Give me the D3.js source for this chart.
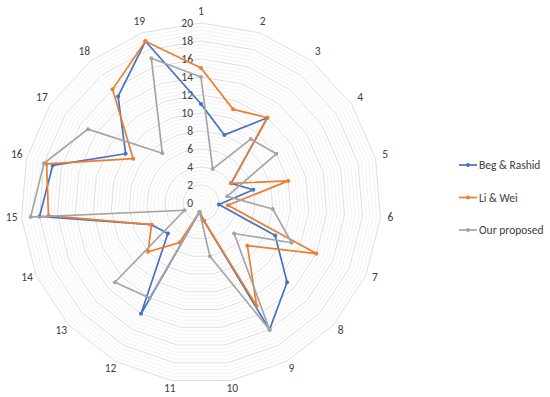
<!DOCTYPE html>
<html>
<head>
<meta charset="utf-8">
<script src="https://cdn.jsdelivr.net/npm/d3@7"></script>
<style>
html,body{margin:0;padding:0;background:#fff;}
svg{display:block;}
text{font-family:Carlito,Calibri,"Liberation Sans",Arial,sans-serif;}
</style>
</head>
<body>
<svg id="chart" width="550" height="397"></svg>
<script>
const axes = ["1","2","3","4","5","6","7","8","9","10","11","12","13","14","15","16","17","18","19"];
const begRashid = [11, 8, 12, 4, 6, 2, 9, 13, 16, 2, 1, 14, 5, 6, 18, 17, 10, 15, 19];
const liWei     = [15, 11, 12, 4, 10, 3, 14, 7, 13, 2, 1, 5, 8, 6, 17, 17.7, 9, 16, 19];
const ourProposed = [14, 4, 9, 10, 3, 8, 11, 5, 16, 6, 1, 12, 13, 2, 19, 18, 15, 7, 17];
const seriesNames = ["Beg & Rashid", "Li & Wei", "Our proposed"];
const seriesColors = ["#4472C4", "#ED7D31", "#A5A5A5"];
const tickValues = [0,2,4,6,8,10,12,14,16,18,20];

const series = [begRashid, liWei, ourProposed];
const svg = d3.select("#chart");
const cx = 201, cy = 203;
const r = d3.scaleLinear().domain([0, 20]).range([0, 180]);
const ang = d3.scaleLinear().domain([0, axes.length]).range([0, 2*Math.PI]);
const pt = (i, v) => [cx + r(v)*Math.sin(ang(i)), cy - r(v)*Math.cos(ang(i))];

const g = svg.append("g");
// minor rings
const minor = d3.range(1, 51).map(k => k*0.4).filter(v => Math.abs(v/2 - Math.round(v/2)) > 1e-6);
const ringLine = d3.line();
g.selectAll("path.minor").data(minor).join("path")
  .attr("d", v => ringLine(axes.map((a,i)=>pt(i,v))) + "Z")
  .attr("fill","none").attr("stroke","#efefef").attr("stroke-width",0.8);
g.selectAll("path.major").data(tickValues.slice(1)).join("path")
  .attr("d", v => ringLine(axes.map((a,i)=>pt(i,v))) + "Z")
  .attr("fill","none").attr("stroke","#d9d9d9").attr("stroke-width",0.9);

// tick labels
g.selectAll("text.tick").data(tickValues).join("text")
  .attr("x", cx - 8).attr("y", v => cy - r(v))
  .attr("text-anchor","end").attr("dominant-baseline","central")
  .attr("font-size", 11.5).attr("fill","#404040").text(d => d);

// axis labels
const labR = 190;
g.selectAll("text.axl").data(axes).join("text")
  .attr("x", (d,i) => cx + labR*Math.sin(ang(i)))
  .attr("y", (d,i) => cy - labR*Math.cos(ang(i)) - 2)
  .attr("text-anchor","middle").attr("dominant-baseline","central")
  .attr("font-size", 11.5).attr("fill","#404040").text(d => d);

// series
const line = d3.line().curve(d3.curveLinearClosed);
series.forEach((vals, s) => {
  const pts = vals.map((v,i)=>pt(i,v));
  g.append("path").attr("d", line(pts)).attr("fill","none")
    .attr("stroke", seriesColors[s]).attr("stroke-width", 1.7).attr("stroke-linejoin","round");
  g.selectAll(null).data(pts).join("circle")
    .attr("cx", d=>d[0]).attr("cy", d=>d[1]).attr("r", 2)
    .attr("fill", seriesColors[s]);
});

// legend
const lg = svg.append("g");
seriesNames.forEach((name, s) => {
  const y = 165 + s*32.5;
  lg.append("line").attr("x1",459).attr("x2",477).attr("y1",y).attr("y2",y)
    .attr("stroke",seriesColors[s]).attr("stroke-width",1.7);
  lg.append("circle").attr("cx",468).attr("cy",y).attr("r",2).attr("fill",seriesColors[s]);
  lg.append("text").attr("x",479).attr("y",y).attr("dominant-baseline","central")
    .attr("font-size",11.5).attr("fill","#404040").text(name);
});
</script>
</body>
</html>
